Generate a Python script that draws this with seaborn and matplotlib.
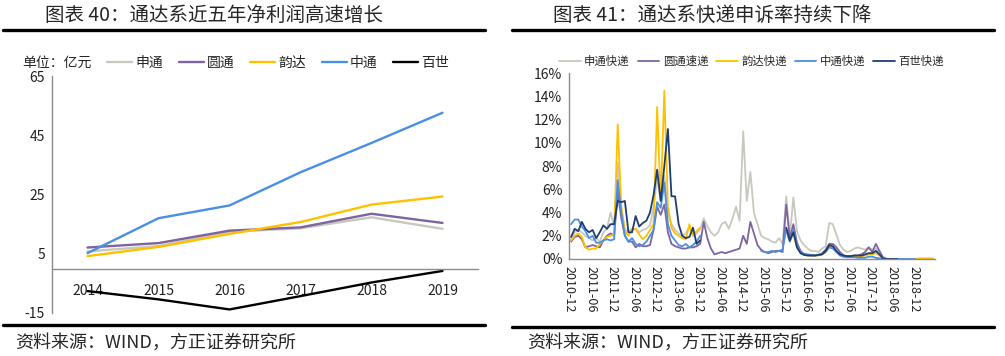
import numpy as np
import pandas as pd
import matplotlib.pyplot as plt
import seaborn as sns
from matplotlib.lines import Line2D

nan = np.nan
#
# Left chart: net profit (亿元), 2014-2019
years = ['2014', '2015', '2016', '2017', '2018', '2019']
profit_names = ['申通', '圆通', '韵达', '中通', '百世']
sto_profit = [5.8, 7.6, 12.4, 13.6, 17.3, 13.4]
yto_profit = [7.1, 8.6, 12.8, 13.9, 18.5, 15.4]
yunda_profit = [4.2, 7.3, 11.7, 15.7, 21.6, 24.3]
zto_profit = [5.2, 17.0, 21.3, 32.5, 42.4, 52.6]
best_profit = [-7.6, -10.4, -13.8, -9.3, -4.7, -0.8]
#
# Right chart: monthly complaint rate (%), 2010-12 .. 2019-05
rate_names = ['申通快递', '圆通速递', '韵达快递', '中通快递', '百世快递']
date_labels = ['2010-12', '2011-06', '2011-12', '2012-06', '2012-12', '2013-06',
               '2013-12', '2014-06', '2014-12', '2015-06', '2015-12', '2016-06',
               '2016-12', '2017-06', '2017-12', '2018-06', '2018-12']
sto_rate = [1.7, 2.3, 2.5, 2.3, 2.0, 1.8, 1.6, 1.8, 1.5, 2.3, 2.6, 4.0,
            2.8, 8.3, 4.5, 2.5, 2.4, 2.6, 2.6, 2.3, 2.5, 2.6, 2.9, 4.5,
            7.0, 5.0, 7.2, 4.0, 3.0, 2.5, 2.2, 2.0, 2.2, 2.8, 2.0, 2.2,
            2.6, 3.5, 2.8, 2.3, 2.0, 2.3, 3.0, 3.2, 2.6, 3.5, 4.5, 3.3,
            11.0, 5.0, 7.5, 4.0, 3.0, 2.0, 1.8, 1.7, 1.5, 1.4, 1.8, 1.3,
            5.4, 2.0, 5.3, 2.4, 1.6, 1.2, 0.9, 0.7, 0.7, 0.6, 0.9, 1.1,
            3.1, 3.0, 2.1, 1.2, 0.8, 0.6, 0.7, 0.9, 1.0, 0.9, 0.8, 1.0,
            0.8, 0.9, 0.6, 0.2, 0.05, 0.0, 0.0, 0.0, 0.0, 0.0, 0.0, 0.0,
            nan, nan, nan, nan, nan, nan]
yto_rate = [1.5, 1.9, 2.0, 1.7, 1.0, 1.1, 1.2, 1.1, 1.0, 1.6, 2.0, 2.2,
            2.0, 5.8, 3.5, 2.0, 1.5, 1.5, 1.0, 1.3, 1.1, 1.1, 1.2, 2.5,
            4.5, 3.8, 4.7, 2.3, 1.3, 1.1, 1.0, 0.9, 0.9, 1.0, 1.0, 1.1,
            1.3, 3.2, 1.8, 0.9, 0.4, 0.5, 0.6, 0.5, 0.6, 0.7, 0.8, 0.9,
            2.0, 1.3, 3.2, 2.2, 1.2, 0.8, 0.6, 0.5, 0.6, 0.7, 0.7, 0.6,
            4.7, 1.8, 3.0, 1.4, 0.7, 0.4, 0.35, 0.3, 0.3, 0.35, 0.5, 0.8,
            1.3, 1.3, 1.0, 0.6, 0.3, 0.2, 0.25, 0.3, 0.3, 0.4, 0.6, 1.0,
            0.6, 1.3, 0.7, 0.1, 0.0, 0.0, 0.0, 0.0, 0.0, 0.0, 0.0, 0.0,
            nan, nan, nan, nan, nan, nan]
yunda_rate = [1.6, 2.0, 2.2, 1.9, 1.0, 0.8, 0.9, 0.9, 1.3, 1.6, 1.9, 2.0,
              2.1, 11.6, 4.5, 2.4, 2.0, 2.5, 2.6, 2.1, 1.7, 2.0, 2.5, 3.0,
              13.1, 5.0, 14.5, 4.5, 2.7, 2.2, 2.0, 1.8, 1.7, 3.0, 2.0, 2.4,
              2.7, nan, nan, nan, nan, nan, nan, nan, nan, nan, nan, nan,
              nan, nan, nan, nan, nan, nan, nan, nan, nan, nan, nan, nan,
              2.5, 1.5, 2.2, 1.0, 0.5, 0.35, 0.3, 0.3, 0.3, 0.3, 0.4, 0.6,
              1.1, 1.0, 0.6, 0.3, 0.2, 0.2, 0.2, 0.2, 0.2, 0.2, 0.3, 0.4,
              0.4, 0.5, 0.3, 0.05, 0.0, 0.0, 0.0, 0.0, 0.0, 0.0, 0.0, 0.0,
              0.0, 0.05, 0.05, 0.05, 0.05, 0.05]
zto_rate = [3.0, 3.4, 3.4, 2.8, 2.4, 1.8, 2.0, 1.4, 1.4, 1.6, 1.7, 1.6,
            1.7, 6.8, 4.0, 2.0, 1.5, 1.8, 1.3, 1.1, 1.2, 1.5, 2.0, 2.5,
            4.9, 4.4, 6.6, 3.0, 2.0, 1.6, 1.2, 1.1, 1.3, 1.0, 1.2, 1.5,
            2.0, nan, nan, nan, nan, nan, nan, nan, nan, nan, nan, nan,
            nan, nan, nan, nan, nan, 0.7, 0.6, 0.6, 0.7, 0.6, 0.7, 0.8,
            2.6, 1.5, 2.5, 1.2, 0.6, 0.45, 0.4, 0.35, 0.3, 0.35, 0.4, 0.6,
            1.0, 0.9, 0.6, 0.3, 0.2, 0.15, 0.15, 0.15, 0.1, 0.1, 0.1, 0.2,
            0.2, 0.1, 0.05, 0.0, 0.0, 0.0, 0.0, 0.0, 0.0, 0.0, 0.0, 0.0,
            0.0, nan, nan, nan, nan, nan]
best_rate = [1.9, 2.6, 2.4, 3.2, 2.6, 2.3, 2.5, 1.8, 2.3, 2.9, 2.6, 3.0,
             3.0, 5.0, 4.9, 5.0, 2.3, 2.3, 3.7, 2.8, 3.1, 3.3, 4.0, 5.5,
             7.7, 5.0, 8.0, 11.2, 5.4, 5.4, 3.0, 2.0, 1.8, 1.9, 2.7, 1.3,
             1.6, nan, nan, nan, nan, nan, nan, nan, nan, nan, nan, nan,
             nan, nan, nan, nan, nan, nan, nan, nan, nan, nan, nan, nan,
             2.7, 1.6, 2.3, 1.0, 0.5, 0.35, 0.3, 0.3, 0.3, 0.35, 0.4, 0.7,
             1.2, 1.1, 0.7, 0.4, 0.3, 0.25, 0.25, 0.3, 0.3, 0.3, 0.4, 0.5,
             0.5, 0.7, 0.4, 0.05, 0.0, 0.0, 0.0, 0.0, nan, nan, nan, nan,
             nan, nan, nan, nan, nan, nan]
#
# Colours
profit_colors = ['#C8C8BE', '#7E64A0', '#FFC000', '#4A8FE6', '#000000']
rate_colors = ['#C8C8BE', '#7E64A0', '#FFC000', '#4A8FE6', '#1F3D6E']

sns.set_style('white')
plt.rcParams['font.family'] = ['Noto Sans CJK SC', 'DejaVu Sans']
plt.rcParams['axes.unicode_minus'] = False

W, H = 1005, 356
fig = plt.figure(figsize=(W / 100, H / 100), dpi=100)
spine_col = '#8C8C8C'
#
# ---------- Left chart ----------
profit_df = pd.DataFrame({
    'pos': np.tile(np.arange(len(years)), len(profit_names)),
    'value': sto_profit + yto_profit + yunda_profit + zto_profit + best_profit,
    'company': np.repeat(profit_names, len(years)),
})
ax1 = fig.add_axes([52 / W, 1 - 313 / H, 426 / W, 237 / H])
sns.lineplot(data=profit_df, x='pos', y='value', hue='company',
             hue_order=profit_names, palette=profit_colors,
             linewidth=1.7, legend=False, ax=ax1)
ax1.set_xlim(-0.5, len(years) - 0.5)
ax1.set_ylim(-15, 65)
ax1.set_yticks([-15, 5, 25, 45, 65])
ax1.set_xticks(range(len(years)))
ax1.set_xticklabels(years)
ax1.set_xticks(np.arange(-0.5, len(years)), minor=True)
ax1.set_xlabel('')
ax1.set_ylabel('')
for s in ['top', 'right']:
    ax1.spines[s].set_visible(False)
ax1.spines['bottom'].set_position(('data', 0))
for s in ['left', 'bottom']:
    ax1.spines[s].set_color(spine_col)
    ax1.spines[s].set_linewidth(1.0)
ax1.tick_params(axis='x', which='major', length=0, pad=11, labelsize=10, colors='#222222')
ax1.tick_params(axis='x', which='minor', length=3, width=0.8, color=spine_col, direction='out')
ax1.tick_params(axis='y', length=3, width=0.8, color=spine_col, direction='out',
                labelsize=10, labelcolor='#222222', pad=2)

fig.text(22 / W, 1 - 63 / H, '单位：亿元', fontsize=10, va='center', ha='left')
h1 = [Line2D([], [], color=c, lw=1.7) for c in profit_colors]
ax1.legend(h1, profit_names, ncol=5, loc='center left',
           bbox_to_anchor=(107 / W, 1 - 63 / H), bbox_transform=fig.transFigure,
           frameon=False, fontsize=10, handlelength=1.8, handletextpad=0.25,
           columnspacing=1.1, borderpad=0, borderaxespad=0)
#
# ---------- Right chart ----------
n = len(sto_rate)
parts = []
for name, vals in zip(rate_names, [sto_rate, yto_rate, yunda_rate, zto_rate, best_rate]):
    d = pd.DataFrame({'pos': np.arange(n) + 0.5, 'value': vals})
    d['seg'] = d['value'].isna().cumsum()
    d['series'] = name
    parts.append(d.dropna())
rate_df = pd.concat(parts, ignore_index=True)

ax2 = fig.add_axes([569.3 / W, 1 - 259 / H, 365.7 / W, 185.7 / H])
sns.lineplot(data=rate_df, x='pos', y='value', hue='series', units='seg',
             estimator=None, hue_order=rate_names, palette=rate_colors,
             linewidth=1.3, legend=False, ax=ax2)
ax2.set_xlim(0, n)
ax2.set_ylim(0, 16)
ax2.set_yticks(range(0, 17, 2))
ax2.set_yticklabels([f'{v}%' for v in range(0, 17, 2)])
ax2.set_xticks(range(0, 6 * len(date_labels), 6))
ax2.set_xticklabels(date_labels, rotation=270, ha='center', va='top')
ax2.set_xlabel('')
ax2.set_ylabel('')
for s in ['top', 'right']:
    ax2.spines[s].set_visible(False)
for s in ['left', 'bottom']:
    ax2.spines[s].set_color(spine_col)
    ax2.spines[s].set_linewidth(1.0)
ax2.tick_params(axis='x', length=3, width=0.8, color=spine_col, direction='out',
                labelsize=9, labelcolor='#222222', pad=2)
ax2.tick_params(axis='y', length=3, width=0.8, color=spine_col, direction='out',
                labelsize=10, labelcolor='#222222', pad=2)

h2 = [Line2D([], [], color=c, lw=1.3) for c in rate_colors]
ax2.legend(h2, rate_names, ncol=5, loc='center left',
           bbox_to_anchor=(559 / W, 1 - 61 / H), bbox_transform=fig.transFigure,
           frameon=False, fontsize=8.2, handlelength=1.9, handletextpad=0.3,
           columnspacing=0.7, borderpad=0, borderaxespad=0)
#
# ---------- Titles, rules and source notes ----------
fig.text(45 / W, 1 - 15 / H, '图表 40：通达系近五年净利润高速增长', fontsize=14, va='center')
fig.text(553 / W, 1 - 15 / H, '图表 41：通达系快递申诉率持续下降', fontsize=14, va='center')
for x0, x1, yt, yb in [(3, 485, 30, 325), (512, 994, 30, 327)]:
    for yy in (yt, yb):
        fig.add_artist(Line2D([x0 / W, x1 / W], [1 - yy / H] * 2, color='black', lw=2.4))
fig.text(15 / W, 1 - 343 / H, '资料来源：WIND，方正证券研究所', fontsize=13, va='center')
fig.text(527 / W, 1 - 343 / H, '资料来源：WIND，方正证券研究所', fontsize=13, va='center')

fig.savefig('out.png', dpi=100)
